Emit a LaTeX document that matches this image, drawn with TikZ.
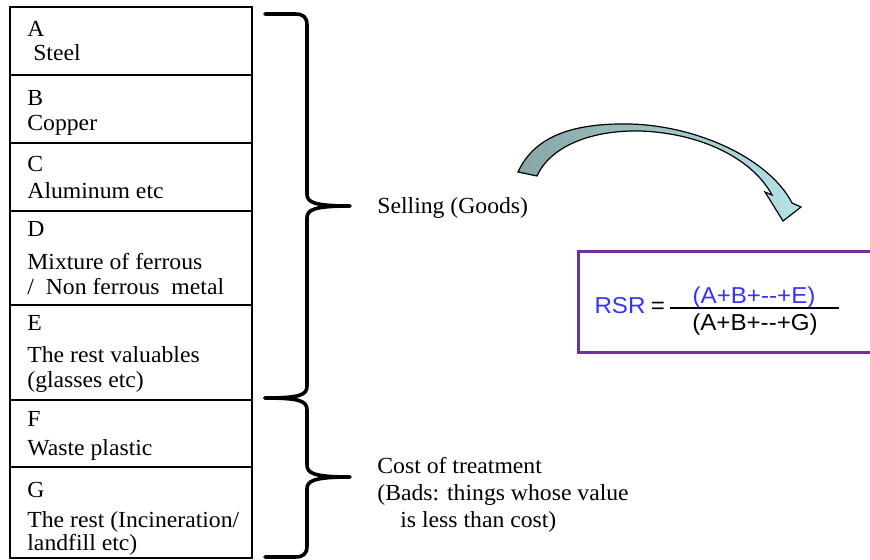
\documentclass[tikz,border=0pt]{standalone}
\usepackage{fontspec}
\setmainfont[FakeStretch=1.03]{Liberation Serif}
\newfontfamily\rsrfont[FakeStretch=1.05]{Liberation Sans}
\definecolor{rsrblue}{RGB}{51,51,255}
\definecolor{rsrpurple}{RGB}{112,48,160}
\definecolor{arrowdark}{RGB}{135,165,165}
\definecolor{arrowlight}{RGB}{182,226,230}
\tikzset{
  item/.style={anchor=base west,inner sep=0pt,font=\fontsize{11.5}{13}\selectfont},
  brace/.style={line width=1.8pt,line cap=round,line join=round},
  rsr/.style={anchor=base,inner sep=0pt,font=\rsrfont\fontsize{11.5}{13}\selectfont},
}
\begin{document}
\begin{tikzpicture}[x=0.5pt,y=-0.5pt]
\useasboundingbox (0,0) rectangle (870,560);
% column of materials
\draw[line width=1pt] (10,7) rectangle (252,558);
\foreach \y in {75,143,211,305,400,467} \draw[line width=1pt] (10,\y)--(252,\y);
\node[item] (a) at (27,37) {A};\node[item] (steel) at (27,61) {\ Steel};
\node[item] (b) at (27,106) {B};\node[item] (copper) at (27,131) {Copper};
\node[item] (c) at (27,172) {C};\node[item] (alu) at (27,199) {Aluminum etc};
\node[item] (d) at (27,237) {D};\node[item] (mix) at (27,270) {Mixture of ferrous};
\node[item] (nonfe) at (27,295) {/~~Non ferrous~ metal};
\node[item] (e) at (27,330) {E};\node[item] (rest) at (27,362) {The rest valuables};
\node[item] (glass) at (27,387) {(glasses etc)};
\node[item] (f) at (27,426) {F};\node[item] (plastic) at (27,455) {Waste plastic};
\node[item] (g) at (27,497) {G};\node[item] (incin) at (27,527) {The rest (Incineration/};
\node[item] (landfill) at (27,550) {landfill etc)};
% braces
\draw[brace] (265,14)--(295,14) .. controls (303,14) and (307,17) .. (307,25)--(307,194)
  .. controls (307,202) and (313,206) .. (350,206) .. controls (313,206) and (307,210) .. (307,218)
  --(307,386) .. controls (307,395) and (300,398) .. (265,398);
\draw[brace] (265,398) .. controls (300,398) and (307,401) .. (307,410)--(307,465)
  .. controls (307,473) and (313,477) .. (350,477) .. controls (313,477) and (307,481) .. (307,489)
  --(307,546) .. controls (307,554) and (303,557) .. (295,557)--(265,557);
\node[item] (selling) at (377,214) {Selling (Goods)};
\node[item] (cost) at (377,473) {Cost of treatment};
\node[item] (bads) at (377,500) {(Bads: things whose value};
\node[item] (less) at (400,527) {is less than cost)};
% curved arrow
\shade[left color=arrowdark,right color=arrowlight,draw=black,line width=0.6pt]
  (518,172) .. controls (535,135) and (575,123) .. (630,124)
  .. controls (700,126) and (770,160) .. (792,203)--(801,207)--(783,221)--(765,192)--(772,195)
  .. controls (752,158) and (700,133) .. (640,131) .. controls (590,130) and (550,147) .. (537,176)--cycle;
% ratio
\draw[rsrpurple,line width=1.5pt] (578,252) rectangle (884,352);
\node[rsr,text=rsrblue] (rsr) at (620,314) {RSR};
\node[rsr] (eq) at (658,314) {=};
\node[rsr,text=rsrblue] (num) at (754,304) {(A+B+-{}-+E)};
\node[rsr] (den) at (755,330) {(A+B+-{}-+G)};
\draw[line width=1pt] (670,308)--(839,308);
\end{tikzpicture}
\end{document}
